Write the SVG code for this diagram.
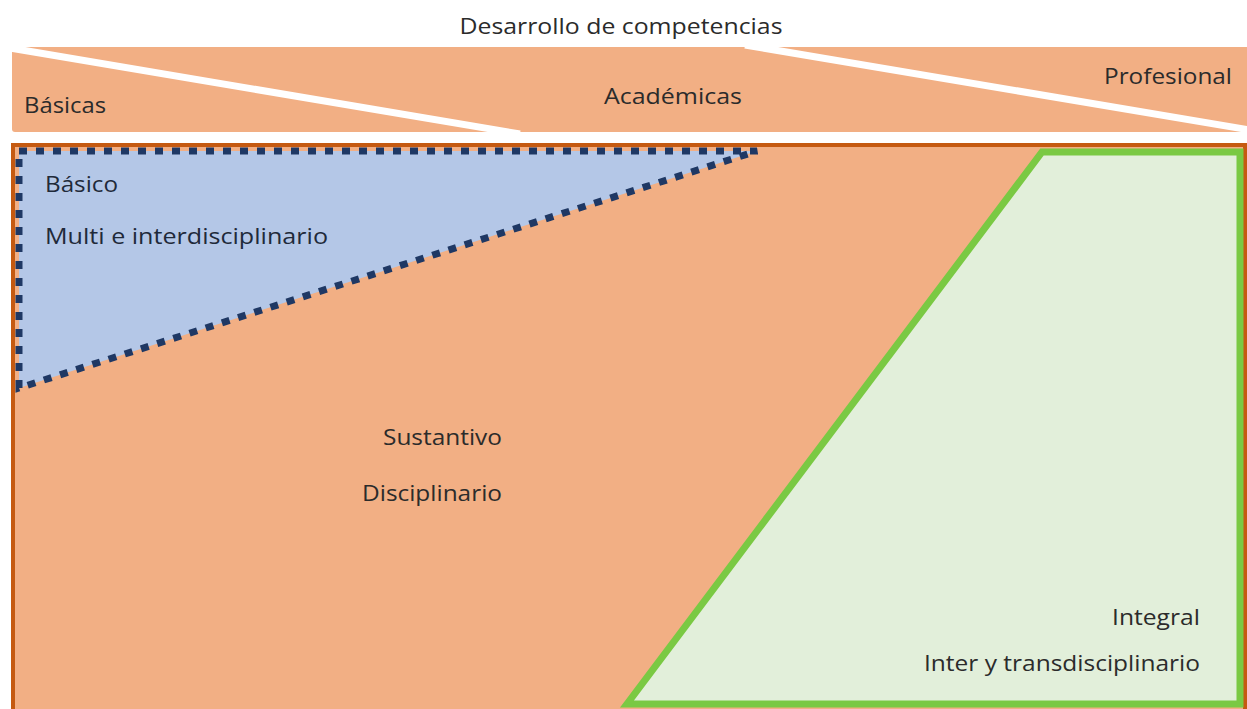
<svg xmlns="http://www.w3.org/2000/svg" width="1247" height="709" viewBox="0 0 1247 709">
<style>
text{font-family:"Open Sans","Noto Sans",sans-serif;font-size:21px;fill:#2b2b2b}
.band{fill:#F2AF84}
.gap{stroke:#ffffff;stroke-width:7;fill:none}
</style>
<rect width="1247" height="709" fill="#ffffff"/>
<g id="title"><text x="621" y="34" text-anchor="middle" textLength="323" lengthAdjust="spacingAndGlyphs">Desarrollo de competencias</text></g>
<g id="band">
<rect class="band" x="12" y="47" width="1240" height="85" rx="3"/>
<line class="gap" x1="10" y1="48" x2="520" y2="134"/>
<line class="gap" x1="745" y1="45" x2="1250" y2="130"/>
<text x="24" y="113" textLength="82" lengthAdjust="spacingAndGlyphs">Básicas</text>
<text x="604" y="104" textLength="138" lengthAdjust="spacingAndGlyphs">Académicas</text>
<text x="1104" y="84" textLength="128" lengthAdjust="spacingAndGlyphs">Profesional</text>
</g>
<g id="main">
<rect x="13" y="145" width="1232" height="570" fill="#F2AF84" stroke="#C55A11" stroke-width="4"/>
<text x="502" y="445" text-anchor="end" textLength="119" lengthAdjust="spacingAndGlyphs">Sustantivo</text>
<text x="502" y="501" text-anchor="end" textLength="140" lengthAdjust="spacingAndGlyphs">Disciplinario</text>
</g>
<g id="basico">
<polygon points="19,151 757,151 19,388" fill="#B4C7E7" stroke="#1F3864" stroke-width="7" stroke-dasharray="8 9"/>
<text x="45" y="192" textLength="73" lengthAdjust="spacingAndGlyphs" style="fill:#1f2a3a">Básico</text>
<text x="45" y="244" textLength="283" lengthAdjust="spacingAndGlyphs" style="fill:#1f2a3a">Multi e interdisciplinario</text>
</g>
<g id="integral">
<polygon points="1042,152 1240,152 1240,704 627,704" fill="#E2EFDA" stroke="#7AC943" stroke-width="7" stroke-linejoin="miter"/>
<text x="1200" y="625" text-anchor="end" textLength="88" lengthAdjust="spacingAndGlyphs">Integral</text>
<text x="1200" y="671" text-anchor="end" textLength="276" lengthAdjust="spacingAndGlyphs">Inter y transdisciplinario</text>
</g>
<g id="connectors"></g>
</svg>
